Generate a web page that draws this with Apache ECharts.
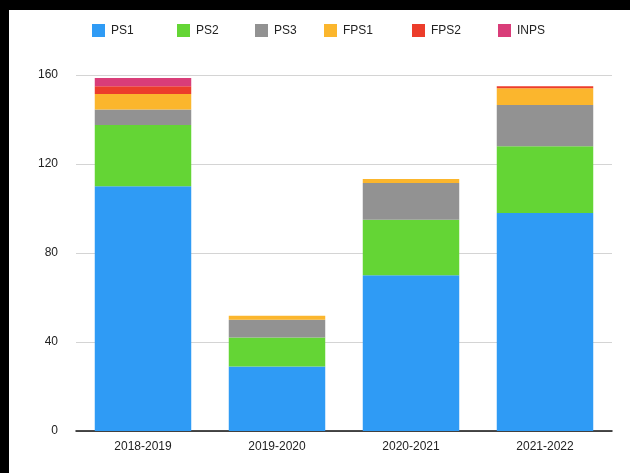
<!DOCTYPE html>
<html>
<head>
<meta charset="utf-8">
<script src="https://cdn.jsdelivr.net/npm/echarts@6/dist/echarts.min.js"></script>
<style>
html,body{margin:0;padding:0;background:#000;width:630px;height:473px;overflow:hidden;}
#chart{position:absolute;left:9px;top:10px;width:621px;height:463px;background:#fff;}
</style>
</head>
<body>
<div id="chart"></div>
<script>
const categories = ['2018-2019', '2019-2020', '2020-2021', '2021-2022'];
const seriesNames = ['PS1', 'PS2', 'PS3', 'FPS1', 'FPS2', 'INPS'];
const PS1 = [110, 29, 70, 98];
const PS2 = [27.5, 13, 25, 30];
const PS3 = [7, 8, 16.5, 18.5];
const FPS1 = [7, 1.8, 1.8, 7.5];
const FPS2 = [3.5, 0, 0, 1];
const INPS = [3.6, 0, 0, 0];
const yTicks = [0, 40, 80, 120, 160];

const values = [PS1, PS2, PS3, FPS1, FPS2, INPS];
const colors = ['#2f9bf5', '#64d535', '#929292', '#fbb62d', '#ec3d2b', '#d93d79'];
const legendLeft = [78, 163, 241, 310, 398, 484];

const chart = echarts.init(document.getElementById('chart'), null, {renderer: 'canvas'});
const font = 'Liberation Sans, Arial, Helvetica, sans-serif';

chart.setOption({
  backgroundColor: '#fff',
  animation: false,
  color: colors,
  textStyle: {fontFamily: font},
  legend: seriesNames.map((n, i) => ({
    data: [n],
    left: legendLeft[i],
    top: 9,
    itemWidth: 13,
    itemHeight: 13,
    icon: 'rect',
    itemGap: 0,
    textStyle: {fontSize: 12, color: '#222', fontFamily: font, padding: [0, 0, 0, 1]}
  })),
  grid: {left: 67, right: 18, top: 65, bottom: 42, containLabel: false},
  xAxis: {
    type: 'category',
    data: categories,
    axisLine: {lineStyle: {color: '#111', width: 1.5}},
    axisTick: {show: false},
    axisLabel: {fontSize: 12, color: '#222', margin: 10, fontFamily: font}
  },
  yAxis: {
    type: 'value',
    min: yTicks[0],
    max: yTicks[yTicks.length - 1],
    interval: 40,
    axisLine: {show: false},
    axisTick: {show: false},
    splitLine: {lineStyle: {color: '#d4d4d4', width: 1}},
    axisLabel: {fontSize: 12, color: '#222', margin: 18, fontFamily: font}
  },
  series: seriesNames.map((n, i) => ({
    name: n,
    type: 'bar',
    stack: 'total',
    barCategoryGap: '28%',
    data: values[i],
    itemStyle: {color: colors[i]}
  }))
});
</script>
</body>
</html>
